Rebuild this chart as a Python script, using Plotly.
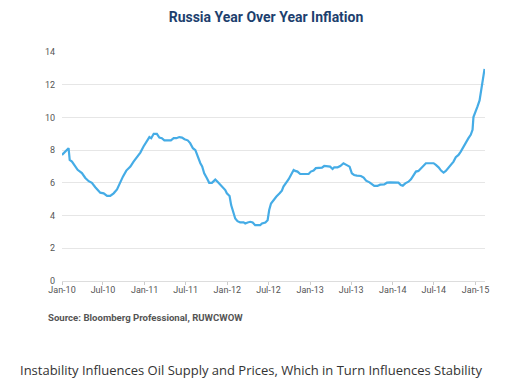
import plotly.graph_objects as go

dates = [
    "2010-01-01", "2010-01-30", "2010-02-04", "2010-02-14", "2010-02-24", "2010-03-11", "2010-03-30",
    "2010-04-14", "2010-04-29", "2010-05-13", "2010-05-28", "2010-06-12", "2010-06-19", "2010-07-04",
    "2010-07-19", "2010-08-02", "2010-08-17", "2010-09-01", "2010-09-15", "2010-09-27", "2010-10-12",
    "2010-10-30", "2010-11-13", "2010-11-28", "2010-12-13", "2010-12-27", "2011-01-11", "2011-01-22",
    "2011-01-30", "2011-02-10", "2011-02-24", "2011-03-07", "2011-03-18", "2011-03-29", "2011-04-09",
    "2011-04-27", "2011-05-09", "2011-05-21", "2011-06-03", "2011-06-15", "2011-06-26", "2011-07-10",
    "2011-07-21", "2011-08-02", "2011-08-13", "2011-08-23", "2011-09-04", "2011-09-12", "2011-09-21",
    "2011-10-03", "2011-10-13", "2011-10-25", "2011-11-01", "2011-11-09", "2011-11-19", "2011-12-01",
    "2011-12-13", "2011-12-23", "2011-12-30", "2012-01-11", "2012-01-18", "2012-01-26", "2012-02-05",
    "2012-02-15", "2012-02-27", "2012-03-13", "2012-03-20", "2012-03-31", "2012-04-11", "2012-04-22",
    "2012-05-03", "2012-05-18", "2012-05-25", "2012-06-02", "2012-06-17", "2012-06-27", "2012-07-04",
    "2012-07-12", "2012-07-23", "2012-08-04", "2012-08-19", "2012-08-29", "2012-09-05", "2012-09-17",
    "2012-09-28", "2012-10-08", "2012-10-20", "2012-10-27", "2012-11-06", "2012-11-18", "2012-12-03",
    "2012-12-25", "2013-01-04", "2013-01-16", "2013-01-26", "2013-02-07", "2013-02-22", "2013-03-04",
    "2013-03-23", "2013-03-30", "2013-04-10", "2013-04-17", "2013-05-02", "2013-05-14", "2013-05-28",
    "2013-06-09", "2013-06-24", "2013-07-04", "2013-07-14", "2013-07-26", "2013-08-13", "2013-08-25",
    "2013-09-05", "2013-09-20", "2013-09-30", "2013-10-11", "2013-10-25", "2013-11-06", "2013-11-24",
    "2013-12-06", "2013-12-20", "2014-01-14", "2014-01-26", "2014-02-05", "2014-02-14", "2014-02-25",
    "2014-03-11", "2014-03-22", "2014-04-02", "2014-04-13", "2014-04-24", "2014-05-05", "2014-05-16",
    "2014-05-27", "2014-06-10", "2014-06-30", "2014-07-10", "2014-07-22", "2014-08-02", "2014-08-13",
    "2014-08-23", "2014-09-04", "2014-09-14", "2014-09-26", "2014-10-06", "2014-10-18", "2014-10-28",
    "2014-11-09", "2014-11-21", "2014-12-01", "2014-12-11", "2014-12-19", "2014-12-23", "2014-12-31",
    "2015-01-10", "2015-01-19", "2015-01-26", "2015-02-01", "2015-02-10",
]

inflation = [
    7.71, 8.12, 7.40, 7.30, 7.10, 6.80, 6.60,
    6.30, 6.10, 6.00, 5.73, 5.50, 5.40, 5.36,
    5.20, 5.20, 5.36, 5.60, 6.07, 6.38, 6.75,
    7.00, 7.30, 7.60, 7.85, 8.22, 8.53, 8.80,
    8.73, 9.00, 9.00, 8.77, 8.73, 8.60, 8.60,
    8.60, 8.73, 8.73, 8.80, 8.77, 8.67, 8.60,
    8.43, 8.12, 8.00, 7.60, 7.20, 7.00, 6.58,
    6.28, 6.00, 6.00, 6.07, 6.20, 6.07, 5.90,
    5.72, 5.56, 5.36, 5.20, 4.64, 4.23, 3.82,
    3.66, 3.58, 3.58, 3.52, 3.58, 3.62, 3.58,
    3.41, 3.41, 3.41, 3.52, 3.58, 3.72, 4.34,
    4.74, 4.95, 5.15, 5.36, 5.52, 5.77, 5.97,
    6.22, 6.48, 6.79, 6.73, 6.69, 6.54, 6.54,
    6.54, 6.69, 6.75, 6.90, 6.93, 6.93, 7.03,
    7.03, 6.99, 6.85, 6.95, 6.95, 7.03, 7.20,
    7.12, 6.99, 6.58, 6.48, 6.44, 6.42, 6.32,
    6.13, 6.03, 5.93, 5.81, 5.81, 5.89, 5.91,
    6.01, 6.03, 6.03, 6.01, 5.87, 5.83, 5.97,
    6.07, 6.22, 6.42, 6.69, 6.73, 6.90, 7.03,
    7.20, 7.20, 7.20, 7.10, 6.95, 6.75, 6.63,
    6.73, 6.93, 7.10, 7.30, 7.57, 7.71, 7.91,
    8.22, 8.49, 8.73, 8.94, 9.24, 10.02, 10.27,
    10.67, 11.04, 11.70, 12.31, 12.97,
]

tick_dates = ["2010-01-01", "2010-07-01", "2011-01-01", "2011-07-01", "2012-01-01", "2012-07-01",
              "2013-01-01", "2013-07-01", "2014-01-01", "2014-07-01", "2015-01-01"]
tick_labels = ["Jan-10", "Jul-10", "Jan-11", "Jul-11", "Jan-12", "Jul-12",
               "Jan-13", "Jul-13", "Jan-14", "Jul-14", "Jan-15"]
y_ticks = [0, 2, 4, 6, 8, 10, 12, 14]

title_text = "Russia Year Over Year Inflation"
source_text = "Source: Bloomberg Professional, RUWCWOW"
caption_text = "Instability Influences Oil Supply and Prices, Which in Turn Influences Stability"

fig = go.Figure()
fig.add_trace(go.Scatter(
    x=dates, y=inflation, mode="lines",
    line=dict(color="#45ace6", width=2.2),
    hoverinfo="skip", showlegend=False,
))

fig.update_layout(
    width=506, height=385,
    margin=dict(l=62, r=21, t=52, b=104),
    paper_bgcolor="white", plot_bgcolor="white",
    font=dict(family="Roboto, Liberation Sans, sans-serif", size=9, color="#555555"),
    title=dict(text="<b>" + title_text + "</b>", x=266 / 506, xanchor="center",
               y=1 - 17 / 385, yanchor="middle", xref="container", yref="container",
               font=dict(family="Roboto, Liberation Sans, sans-serif", size=14, color="#1d3f6e")),
    xaxis=dict(
        type="date", range=["2010-01-01", "2015-02-12"],
        tickvals=tick_dates, ticktext=tick_labels,
        showgrid=False, zeroline=False, showline=True, linecolor="#dddddd", linewidth=1,
        ticks="outside", ticklen=3, tickcolor="#cccccc", ticklabelstandoff=-3,
        tickfont=dict(size=9, color="#555555"),
    ),
    yaxis=dict(
        range=[0, 14], tickvals=y_ticks,
        showgrid=True, gridcolor="#e6e6e6", gridwidth=1,
        zeroline=False, showline=False,
        ticks="", ticklabelstandoff=6,
        tickfont=dict(size=9, color="#555555"),
    ),
)

fig.add_annotation(
    text="<b>" + source_text + "</b>", xref="paper", yref="paper",
    x=(46 - 62) / 423, y=-(317 - 281) / 229, xanchor="left", yanchor="middle",
    showarrow=False, font=dict(family="Roboto, Liberation Sans, sans-serif", size=9.6, color="#555555"),
)
fig.add_annotation(
    text=caption_text, xref="paper", yref="paper",
    x=(18 - 62) / 423, y=-(370 - 281) / 229, xanchor="left", yanchor="middle",
    showarrow=False, font=dict(family="Open Sans, Noto Sans, sans-serif", size=13, color="#333333"),
)

fig.write_html("out.html", config={"displayModeBar": False},
               post_script="document.body.style.margin='0';document.body.style.padding='0';")
